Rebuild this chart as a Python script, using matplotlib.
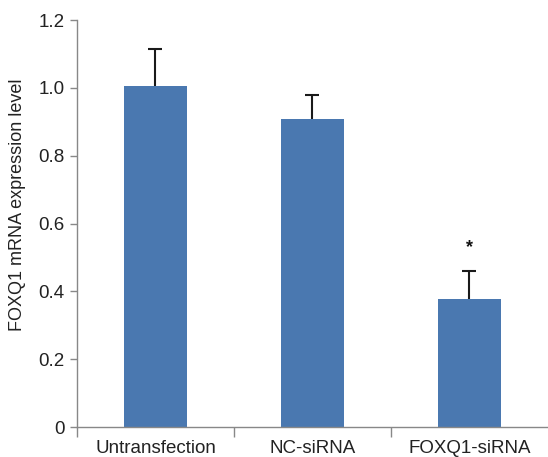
import matplotlib
matplotlib.use("Agg")
import matplotlib.pyplot as plt
import numpy as np

categories = ["Untransfection", "NC-siRNA", "FOXQ1-siRNA"]
values = [1.005, 0.908, 0.378]
errors = [0.11, 0.072, 0.082]
sig_marks = ["", "", "*"]
yticks = [0, 0.2, 0.4, 0.6, 0.8, 1.0, 1.2]
ytick_labels = ["0", "0.2", "0.4", "0.6", "0.8", "1.0", "1.2"]

plt.rcParams['font.family'] = ['Liberation Sans', 'DejaVu Sans']

fig = plt.figure(figsize=(5.48, 4.57), dpi=100)
ax = fig.add_axes([0.1405, 0.0656, 0.8595, 0.8906])

x = np.arange(len(categories))
ax.bar(x, values, width=0.4, color="#4a78b0", zorder=2)
eb = ax.errorbar(x, values, yerr=[np.zeros(len(values)), errors], fmt="none",
                 ecolor="#1a1a1a", elinewidth=1.5, capsize=5, capthick=1.5, zorder=3)
# hide lower caps (only upward error bars)
caplines = eb[1]
if len(caplines) == 2:
    caplines[0].set_visible(False)
for xi, v, e, s in zip(x, values, errors, sig_marks):
    if s:
        ax.text(xi, v + e + 0.07, s, ha="center", va="center", fontsize=13,
                fontweight="bold", color="#111111")

ax.set_xlim(-0.5, 2.5)
ax.set_ylim(0, 1.2)
ax.set_yticks(yticks)
ax.set_yticklabels(ytick_labels, fontsize=13.5, color="#222222")
ax.set_xticks(x)
ax.set_xticklabels(categories, fontsize=13.5, color="#222222")
ax.tick_params(axis="x", which="major", length=0, pad=9)
ax.set_xticks([-0.5, 0.5, 1.5], minor=True)
ax.tick_params(axis="x", which="minor", length=7, color="#888888", width=1)
ax.tick_params(axis="y", length=5, color="#888888", width=1, pad=4)

for sp in ["top", "right"]:
    ax.spines[sp].set_visible(False)
for sp in ["left", "bottom"]:
    ax.spines[sp].set_color("#888888")
    ax.spines[sp].set_linewidth(1)

ax.set_ylabel("FOXQ1 mRNA expression level", fontsize=13, color="#222222")
ax.yaxis.set_label_coords(-0.108, 0.545)

fig.savefig("out.png", dpi=100)
